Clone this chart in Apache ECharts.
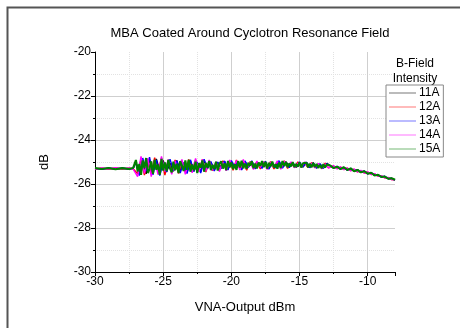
<!DOCTYPE html>
<html>
<head>
<meta charset="utf-8">
<script src="https://cdn.jsdelivr.net/npm/echarts@6/dist/echarts.min.js"></script>
<style>
  html, body { margin: 0; padding: 0; background: #fff; }
  #chart { width: 460px; height: 328px; }
</style>
</head>
<body>
<div id="chart"></div>
<script>
// VNA output power (dBm) sample positions
const xValuesA = [
  -30, -29.5, -29, -28.5, -28, -27.5, -27.2,
  -27, -26.75, -26.5, -26.25, -26, -25.75, -25.5, -25.25, -25, -24.75,
  -24.5, -24.25, -24, -23.75, -23.5, -23.25, -23, -22.75, -22.5, -22.25,
  -22, -21.75, -21.5, -21.25, -21, -20.75, -20.5, -20.25, -20, -19.75,
  -19.5, -19.25, -19, -18.75, -18.5, -18.25, -18, -17.75, -17.5, -17.25,
  -17, -16.75, -16.5, -16.25, -16, -15.75, -15.5, -15.25, -15, -14.75,
  -14.5, -14.25, -14, -13.75, -13.5, -13.25, -13,
  -12.75, -12.5, -12.25, -12, -11.75, -11.5, -11.25, -11, -10.75, -10.5,
  -10.25, -10, -9.75, -9.5, -9.25, -9, -8.75, -8.5, -8.25, -8
];
const xValuesB = [
  -30, -29.5, -29, -28.5, -28, -27.5, -27.2,
  -26.875, -26.625, -26.375, -26.125, -25.875, -25.625, -25.375, -25.125, -24.875, -24.625,
  -24.375, -24.125, -23.875, -23.625, -23.375, -23.125, -22.875, -22.625, -22.375, -22.125,
  -21.875, -21.625, -21.375, -21.125, -20.875, -20.625, -20.375, -20.125, -19.875, -19.625,
  -19.375, -19.125, -18.875, -18.625, -18.375, -18.125, -17.875, -17.625, -17.375, -17.125,
  -16.875, -16.625, -16.375, -16.125, -15.875, -15.625, -15.375, -15.125, -14.875, -14.625,
  -14.375, -14.125, -13.875, -13.625, -13.375, -13.125, -12.875,
  -12.75, -12.5, -12.25, -12, -11.75, -11.5, -11.25, -11, -10.75, -10.5,
  -10.25, -10, -9.75, -9.5, -9.25, -9, -8.75, -8.5, -8.25, -8
];
// finer sampling used by the 15A trace
const xValuesC = [
  -30, -29.5, -29, -28.5, -28, -27.5, -27.2,
  -27, -26.875, -26.75, -26.625, -26.5, -26.375, -26.25, -26.125,
  -26, -25.875, -25.75, -25.625, -25.5, -25.375, -25.25, -25.125,
  -25, -24.875, -24.75, -24.625, -24.5, -24.375, -24.25, -24.125,
  -24, -23.875, -23.75, -23.625, -23.5, -23.375, -23.25, -23.125,
  -23, -22.875, -22.75, -22.625, -22.5, -22.375, -22.25, -22.125,
  -22, -21.875, -21.75, -21.625, -21.5, -21.375, -21.25, -21.125,
  -21, -20.875, -20.75, -20.625, -20.5, -20.375, -20.25, -20.125,
  -20, -19.875, -19.75, -19.625, -19.5, -19.375, -19.25, -19.125,
  -19, -18.875, -18.75, -18.625, -18.5, -18.375, -18.25, -18.125,
  -18, -17.875, -17.75, -17.625, -17.5, -17.375, -17.25, -17.125,
  -17, -16.875, -16.75, -16.625, -16.5, -16.375, -16.25, -16.125,
  -16, -15.875, -15.75, -15.625, -15.5, -15.375, -15.25, -15.125,
  -15, -14.875, -14.75, -14.625, -14.5, -14.375, -14.25, -14.125,
  -14, -13.875, -13.75, -13.625, -13.5, -13.375, -13.25, -13.125,
  -13,
  -12.75, -12.5, -12.25, -12, -11.75, -11.5, -11.25, -11, -10.75, -10.5,
  -10.25, -10, -9.75, -9.5, -9.25, -9, -8.75, -8.5, -8.25, -8
];

// dB readings per B-field current
const b11 = [
  -25.29, -25.31, -25.28, -25.32, -25.29, -25.31, -25.29,
  -25.01, -25.47, -25.00, -25.54, -24.89, -25.44, -24.86, -25.40, -24.93, -25.44,
  -25.06, -25.42, -24.93, -25.39, -25.04, -25.47, -24.96, -25.42, -25.06, -25.44,
  -24.93, -25.29, -25.01, -25.35, -25.03, -25.25, -24.97, -25.33, -24.99, -25.26,
  -25.00, -25.34, -24.98, -25.22, -24.99, -25.28, -25.05, -25.25, -25.01, -25.29,
  -25.06, -25.27, -25.01, -25.22, -24.98, -25.22, -25.09, -25.24, -25.05, -25.23,
  -25.02, -25.19, -25.03, -25.28, -25.10, -25.26, -25.06,
  -25.17, -25.27, -25.21, -25.31, -25.25, -25.36, -25.30, -25.41, -25.36, -25.47,
  -25.42, -25.53, -25.49, -25.61, -25.58, -25.68, -25.66, -25.76, -25.74, -25.81
];
const b12 = [
  -25.32, -25.28, -25.33, -25.27, -25.32, -25.28, -25.31,
  -25.53, -24.88, -25.60, -24.96, -25.52, -24.80, -25.40, -24.84, -25.60, -24.98,
  -25.39, -24.91, -25.52, -25.04, -25.46, -24.88, -25.42, -24.91, -25.39, -24.88,
  -25.46, -25.01, -25.40, -25.03, -25.38, -24.94, -25.29, -24.99, -25.38, -24.91,
  -25.30, -25.00, -25.37, -24.98, -25.23, -25.00, -25.32, -25.01, -25.25, -24.98,
  -25.32, -24.99, -25.22, -24.95, -25.29, -25.05, -25.23, -25.00, -25.22, -25.06,
  -25.25, -25.03, -25.26, -25.09, -25.26, -25.05, -25.27,
  -25.26, -25.18, -25.30, -25.23, -25.34, -25.28, -25.39, -25.33, -25.45, -25.39,
  -25.50, -25.46, -25.57, -25.54, -25.65, -25.63, -25.72, -25.71, -25.80, -25.81
];
const b13 = [
  -25.29, -25.33, -25.28, -25.32, -25.27, -25.33, -25.28,
  -25.00, -25.62, -24.82, -25.41, -24.78, -25.58, -24.91, -25.62, -25.03, -25.46,
  -24.87, -25.40, -24.94, -25.50, -25.03, -25.53, -24.90, -25.43, -25.00, -25.50,
  -24.87, -25.29, -24.98, -25.41, -25.00, -25.31, -24.95, -25.36, -24.93, -25.24,
  -24.97, -25.36, -24.95, -25.25, -24.95, -25.31, -25.04, -25.29, -24.97, -25.33,
  -25.03, -25.26, -24.94, -25.28, -25.03, -25.25, -25.03, -25.21, -25.00, -25.22,
  -25.01, -25.26, -25.05, -25.27, -25.08, -25.29, -25.07,
  -25.17, -25.27, -25.20, -25.31, -25.25, -25.37, -25.29, -25.41, -25.35, -25.47,
  -25.41, -25.54, -25.48, -25.60, -25.58, -25.69, -25.65, -25.75, -25.75, -25.82
];
const b14 = [
  -25.33, -25.27, -25.32, -25.26, -25.31, -25.27, -25.33,
  -25.66, -24.74, -25.52, -24.83, -25.66, -24.92, -25.57, -24.74, -25.43, -24.88,
  -25.56, -24.95, -25.42, -24.88, -25.56, -25.02, -25.49, -24.84, -25.45, -24.88,
  -25.42, -24.91, -25.38, -24.99, -25.43, -25.01, -25.40, -24.91, -25.30, -24.93,
  -25.37, -24.88, -25.32, -25.02, -25.34, -24.96, -25.24, -24.98, -25.34, -25.00,
  -25.26, -24.95, -25.33, -24.97, -25.23, -24.99, -25.26, -25.05, -25.24, -24.99,
  -25.23, -25.06, -25.26, -25.06, -25.31, -25.09, -25.27,
  -25.27, -25.17, -25.31, -25.22, -25.35, -25.27, -25.40, -25.32, -25.45, -25.38,
  -25.51, -25.45, -25.57, -25.53, -25.65, -25.62, -25.72, -25.70, -25.80, -25.80
];
const b15 = [
  -25.28, -25.32, -25.27, -25.33, -25.28, -25.32, -25.27,
  -24.91, -25.43, -25.09, -25.58, -24.93, -25.28, -24.82, -25.50,
  -25.31, -24.97, -25.54, -24.90, -25.35, -25.12, -25.58, -24.86,
  -25.39, -25.02, -25.41, -24.90, -25.29, -25.47, -24.99, -25.38,
  -25.08, -25.50, -24.96, -25.17, -25.41, -24.93, -25.35, -24.90,
  -25.44, -25.11, -25.38, -24.99, -25.50, -25.05, -25.26, -24.93,
  -25.44, -25.04, -25.26, -24.95, -25.37, -25.13, -25.32, -24.99,
  -25.39, -25.08, -24.97, -25.30, -25.06, -25.37, -24.95, -25.24,
  -25.02, -25.32, -25.10, -25.36, -24.96, -25.25, -24.94, -25.29,
  -25.07, -25.31, -25.04, -25.17, -24.97, -25.28, -25.07, -25.29,
  -25.02, -25.18, -24.96, -25.23, -24.99, -25.30, -25.04, -25.20,
  -24.98, -25.25, -25.10, -25.30, -25.03, -25.27, -24.96, -25.18,
  -25.01, -25.24, -25.07, -25.20, -25.01, -25.23, -25.09, -25.21,
  -25.02, -25.25, -25.06, -25.15, -25.03, -25.24, -25.08, -25.24,
  -25.05, -25.23, -25.09, -25.27, -25.13, -25.29, -25.10, -25.25,
  -25.11,
  -25.16, -25.28, -25.21, -25.32, -25.24, -25.36, -25.29, -25.42, -25.36, -25.47,
  -25.42, -25.53, -25.49, -25.61, -25.58, -25.68, -25.66, -25.76, -25.74, -25.81
];

const seriesNames = ["11A", "12A", "13A", "14A", "15A"];
const seriesValues = [b11, b12, b13, b14, b15];
const seriesX = [xValuesA, xValuesB, xValuesA, xValuesB, xValuesC];

const FONT = "'Liberation Sans', Arial, sans-serif";
const lineColors = ["#000000", "#ff0000", "#0000ff", "#ff00ff", "#008000"];
const lineWidths = [1.4, 1.4, 1.4, 1.4, 2.1];

const chart = echarts.init(document.getElementById("chart"), null, { renderer: "canvas" });

const axisCommon = {
  axisLine: { show: true, onZero: false, lineStyle: { color: "#000", width: 1 } },
  axisTick: { show: true, length: 4, lineStyle: { color: "#000" } },
  minorTick: { show: true, splitNumber: 2, length: 2, lineStyle: { color: "#000" } },
  axisLabel: { color: "#000", fontSize: 12, fontFamily: FONT, margin: 4 },
  splitLine: { show: true, showMinLine: false, showMaxLine: false, lineStyle: { color: "#cfcfcf", width: 1 } },
  minorSplitLine: { show: true, lineStyle: { color: "#e2e2e2", type: "dotted", width: 1 } },
  nameTextStyle: { color: "#000", fontSize: 13, fontFamily: FONT },
  nameLocation: "middle",
};

// thin bar used as the legend line sample
const legendLine = "path://M0,0 H27 V1.2 H0 Z";

const option = {
  animation: false,
  backgroundColor: "#fff",
  title: {
    text: "MBA Coated Around Cyclotron Resonance Field",
    left: 245,
    textAlign: "center",
    top: 22,
    textStyle: { fontSize: 13, fontWeight: "normal", color: "#000", fontFamily: FONT },
  },
  grid: { left: 95, right: 65, top: 52, bottom: 56 },
  legend: {
    orient: "vertical",
    left: 386,
    top: 85,
    padding: [2, 3, 2, 3],
    itemWidth: 27,
    itemHeight: 12,
    itemGap: 2,
    borderColor: "#888",
    borderWidth: 1,
    borderRadius: 0,
    backgroundColor: "#fff",
    itemStyle: { opacity: 0.45 },
    textStyle: { color: "#000", fontSize: 12, fontFamily: FONT, padding: [0, 0, 0, -2] },
    data: seriesNames.map((n) => ({ name: n, icon: legendLine })),
  },
  xAxis: Object.assign({}, axisCommon, {
    type: "value",
    min: -30,
    max: -8,
    interval: 5,
    name: "VNA-Output dBm",
    nameGap: 29,
    axisLabel: Object.assign({}, axisCommon.axisLabel, { showMaxLabel: false }),
  }),
  yAxis: Object.assign({}, axisCommon, {
    type: "value",
    min: -30,
    max: -20,
    interval: 2,
    name: "dB",
    nameGap: 44,
  }),
  graphic: [
    {
      type: "polyline",
      shape: { points: [[7.5, 328], [7.5, 7.5], [460, 7.5]] },
      style: { stroke: "#555", lineWidth: 2, fill: null },
      z: 100,
    },
    {
      type: "text",
      x: 415,
      y: 56,
      style: {
        text: "B-Field\nIntensity",
        align: "center",
        textAlign: "center",
        fontSize: 12,
        lineHeight: 15,
        fill: "#000",
        fontFamily: FONT,
      },
    },
  ],
  series: seriesNames.map((name, k) => ({
    name: name,
    type: "line",
    symbol: "none",
    data: seriesX[k].map((x, i) => [x, seriesValues[k][i]]),
    lineStyle: { color: lineColors[k], width: lineWidths[k] },
    itemStyle: { color: lineColors[k] },
  })),
};

chart.setOption(option);
</script>
</body>
</html>
